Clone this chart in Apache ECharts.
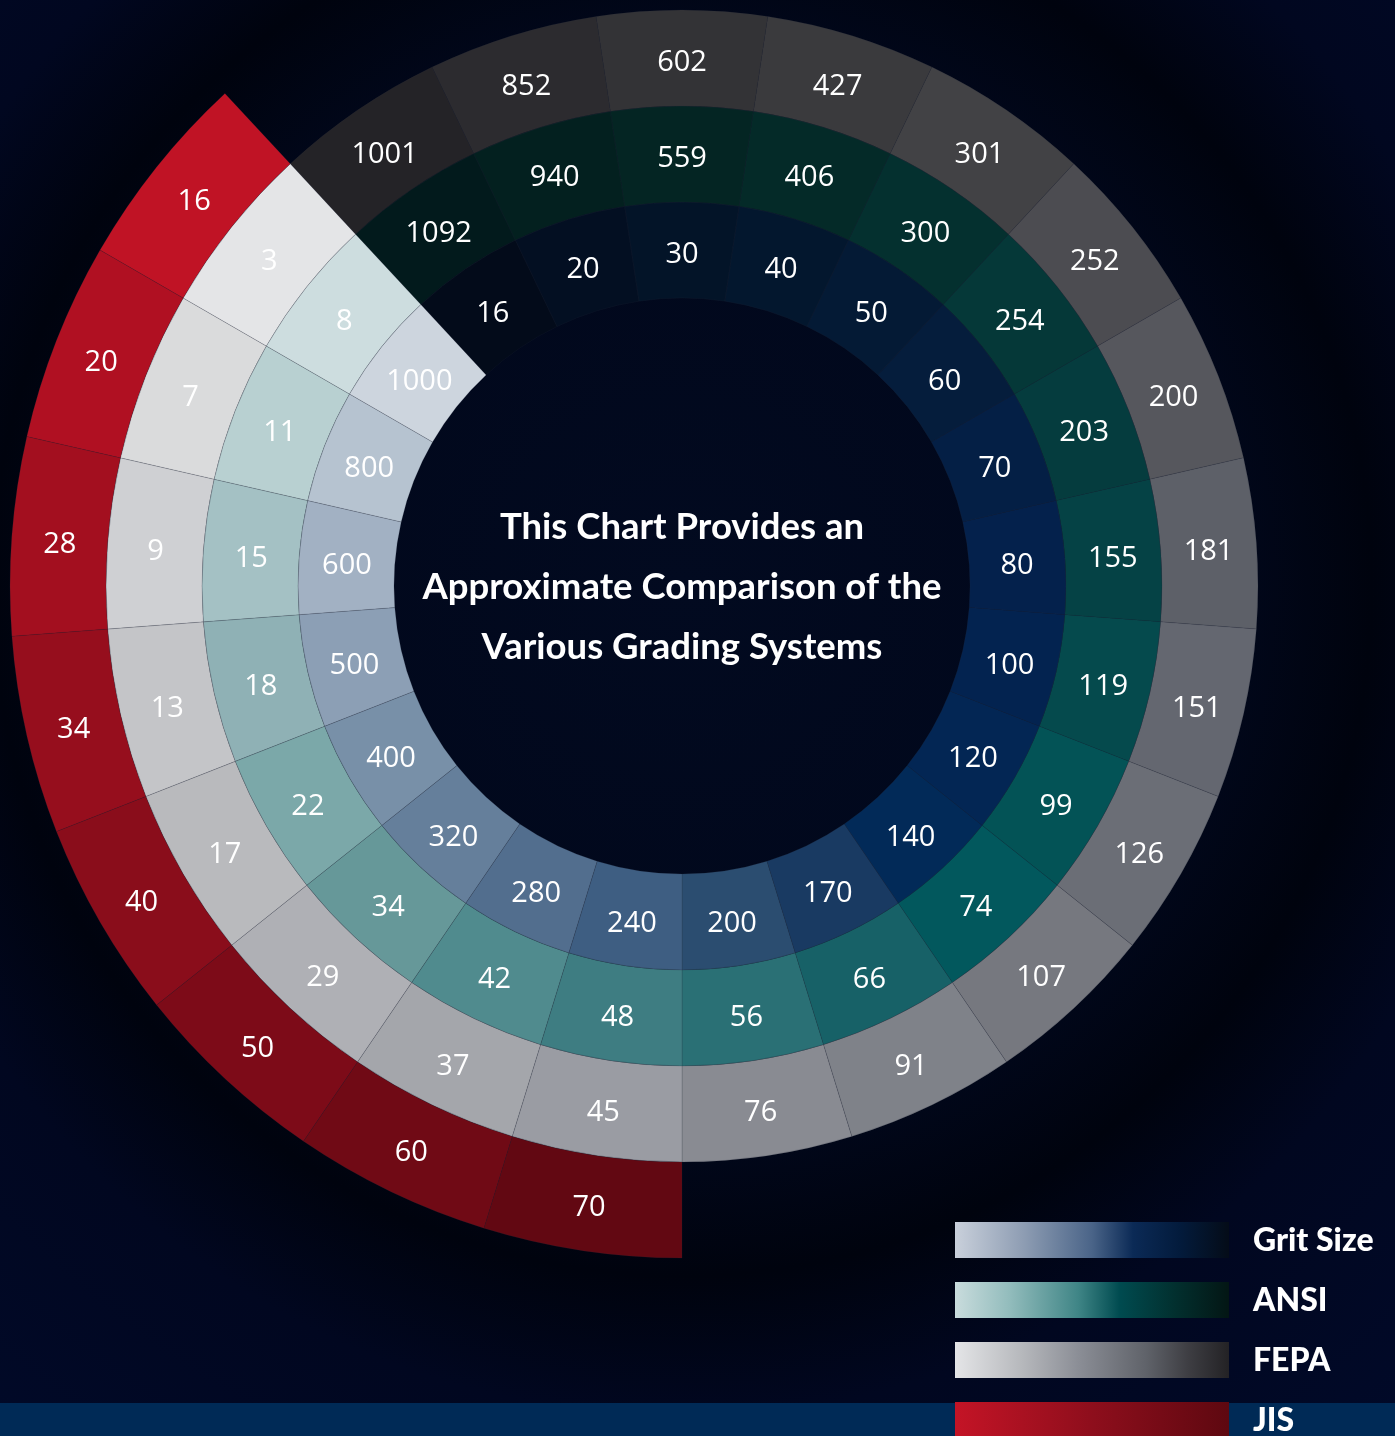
<!DOCTYPE html>
<html>
<head>
<meta charset="utf-8">
<title>Abrasive Grit Grading Systems</title>
<script src="https://cdn.jsdelivr.net/npm/echarts@6/dist/echarts.min.js"></script>
<style>
  html, body {
    margin: 0; padding: 0; width: 1395px; height: 1436px; overflow: hidden;
    background: radial-gradient(circle at 682px 586px,
      #020a20 0px, #01071a 560px, #00030e 690px, #010720 830px, #010a2a 1150px);
  }
  #chart { width: 1395px; height: 1436px; }
</style>
</head>
<body>
<div id="chart"></div>
<script>
// Grades, listed clockwise from the cut at the upper left.
const gritSizes = [16, 20, 30, 40, 50, 60, 70, 80, 100, 120, 140, 170, 200, 240, 280, 320, 400, 500, 600, 800, 1000];
const ansiGrades = [1092, 940, 559, 406, 300, 254, 203, 155, 119, 99, 74, 66, 56, 48, 42, 34, 22, 18, 15, 11, 8];
const fepaGrades = [1001, 852, 602, 427, 301, 252, 200, 181, 151, 126, 107, 91, 76, 45, 37, 29, 17, 13, 9, 7, 3];
// JIS only covers the coarse half (from grit 240 onwards); null = no JIS grade.
const jisGrades = [null, null, null, null, null, null, null, null, null, null, null, null, null, 70, 60, 50, 40, 34, 28, 20, 16];

const systemNames = ['Grit Size', 'ANSI', 'FEPA', 'JIS'];

// Fill colours of each ring's cells (same order as the grades).
const gritColors = ['#030b1a', '#030f22', '#031428', '#03172e', '#041a35', '#051d3c', '#041f45', '#04214c', '#032350', '#032654', '#022a58',
  '#193a62', '#2b4d70', '#3e5e82', '#526e8e', '#657f9b', '#7890a8', '#8c9fb5', '#a2b1c3', '#b6c3d0', '#cdd5de'];
const ansiColors = ['#021a1c', '#03201f', '#042523', '#042a28', '#04302f', '#053838', '#053c3e', '#054245', '#054a4d', '#035356', '#02585d',
  '#176167', '#2a7075', '#3e7d82', '#508b8e', '#669899', '#7ba8a9', '#8fb1b5', '#a4c1c4', '#b8d0d1', '#cdddDf'];
const fepaColors = ['#242327', '#2c2b2f', '#333336', '#3a3a3d', '#424245', '#4c4c51', '#56575d', '#5d6068', '#646770', '#6b6e76', '#76787f',
  '#7f8289', '#898b92', '#9a9ca3', '#a4a6ab', '#afb0b5', '#b9babd', '#c4c5c8', '#cfd0d3', '#dadbdc', '#e4e5e7'];
const jisColors = [null, null, null, null, null, null, null, null, null, null, null, null, null,
  '#620812', '#700a15', '#7d0b18', '#8a0d1b', '#960e1d', '#a30f1f', '#b01022', '#c01325'];

// Legend swatch gradients (left to right).
const legendGradients = [
  [[0, '#c9d0db'], [0.25, '#8e9db3'], [0.5, '#4a6488'], [0.65, '#0b2a56'], [0.82, '#031b3c'], [1, '#040c18']],
  [[0, '#c9dcdd'], [0.2, '#92bcbc'], [0.45, '#3f8586'], [0.6, '#004b50'], [0.8, '#02302f'], [1, '#031614']],
  [[0, '#e4e5e7'], [0.25, '#b5b7bb'], [0.45, '#8b8e96'], [0.7, '#5f6269'], [0.85, '#3e3e43'], [1, '#232225']],
  [[0, '#c41426'], [0.5, '#8e0e1c'], [1, '#5e0810']]
];

const ringLayers = [
  { name: systemNames[0], grades: gritSizes, colors: gritColors },
  { name: systemNames[1], grades: ansiGrades, colors: ansiColors },
  { name: systemNames[2], grades: fepaGrades, colors: fepaColors },
  { name: systemNames[3], grades: jisGrades, colors: jisColors }
];

const chart = echarts.init(document.getElementById('chart'), null, { renderer: 'canvas' });

const series = ringLayers.map(layer => ({
  type: 'bar',
  name: layer.name,
  coordinateSystem: 'polar',
  stack: 'rings',
  barCategoryGap: '0%',
  silent: true,
  // every cell is one ring deep; cells without a grade are left empty
  data: layer.grades.map(g => (g == null ? '-' : 1)),
  itemStyle: {
    color: p => layer.colors[p.dataIndex],
    borderColor: 'rgba(40,46,62,0.3)',
    borderWidth: 0.6
  },
  label: {
    show: true,
    position: 'middle',
    rotate: 0,
    offset: [0, 5],
    formatter: p => String(layer.grades[p.dataIndex]),
    color: '#ffffff',
    fontFamily: 'Open Sans',
    fontSize: 29,
    fontWeight: 400
  }
}));

const legendX = 955, legendY = 1222, legendW = 274, legendH = 36, legendStep = 60;
const graphics = [
  { type: 'rect', z: 1, shape: { x: 0, y: 1403, width: 1395, height: 40 }, style: { fill: '#002a56' } },
  {
    type: 'text', z: 10, x: 682, y: 587,
    style: {
      text: 'This Chart Provides an\nApproximate Comparison of the\nVarious Grading Systems',
      fill: '#ffffff', font: 'bold 36.5px Lato', align: 'center', verticalAlign: 'middle', lineHeight: 60
    }
  }
];
systemNames.forEach((name, i) => {
  graphics.push({
    type: 'rect', z: 5,
    shape: { x: legendX, y: legendY + i * legendStep, width: legendW, height: i === 3 ? 40 : legendH },
    style: { fill: new echarts.graphic.LinearGradient(0, 0, 1, 0, legendGradients[i].map(s => ({ offset: s[0], color: s[1] }))) }
  });
  graphics.push({
    type: 'text', z: 5, x: 1253, y: legendY + 19 + i * legendStep,
    style: { text: name, fill: '#ffffff', font: '900 32px Lato', align: 'left', verticalAlign: 'middle' }
  });
});

chart.setOption({
  backgroundColor: 'transparent',
  animation: false,
  polar: { center: [682, 586], radius: [288, 672] },
  angleAxis: {
    type: 'category',
    data: gritSizes.map(String),
    startAngle: 90 + 360 / gritSizes.length * 2.5,
    clockwise: true,
    axisLine: { show: false }, axisTick: { show: false }, axisLabel: { show: false }, splitLine: { show: false }
  },
  radiusAxis: {
    type: 'value', min: 0, max: ringLayers.length,
    axisLine: { show: false }, axisTick: { show: false }, axisLabel: { show: false }, splitLine: { show: false }
  },
  series: series,
  graphic: graphics
});
</script>
</body>
</html>
